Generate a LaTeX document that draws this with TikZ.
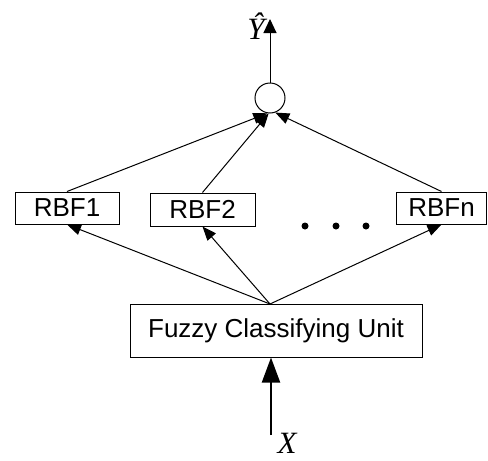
\documentclass[tikz,border=0pt]{standalone}
\usepackage{fontspec}
\setmainfont{Liberation Serif}
\newfontfamily\arialf{Liberation Sans}
\usetikzlibrary{arrows.meta,calc}
\begin{document}
\begin{tikzpicture}[x=1pt,y=-1pt,
  box/.style={draw,line width=1pt,rectangle,inner sep=0pt,font=\arialf\fontsize{26}{30}\selectfont},
  conn/.style={line width=1pt,-{Triangle[length=14pt,width=11pt]}},
  lbl/.style={inner sep=0pt,font=\fontsize{31}{34}\selectfont\itshape},
  dotn/.style={circle,fill=black,inner sep=0pt,minimum size=7pt}]
\useasboundingbox (0,0) rectangle (488,461);
\node[draw,circle,line width=1pt,minimum size=30pt,inner sep=0pt] (circ) at (270,98) {};
\node[box,minimum width=104pt,minimum height=32pt] (rbf1) at (67,208) {RBF1};
\node[box,minimum width=105pt,minimum height=33pt] (rbf2) at (202.5,209.5) {RBF2};
\node[box,minimum width=90pt,minimum height=32pt] (rbfn) at (441.5,208) {RBFn};
\node[box,minimum width=292pt,minimum height=53pt] (fcu) at (276,330.5) {Fuzzy Classifying Unit};
\node[dotn] (d1) at (305,226) {};
\node[dotn] (d2) at (336,226) {};
\node[dotn] (d3) at (366,226) {};
\coordinate (src) at (270,304);
\coordinate (yout) at (270,19);
\coordinate (xin) at (271,435);
\node[lbl] (yl) at (256,26) {Ŷ};
\node[lbl] (xl) at (287,443) {X};
\draw[conn] (src) -- (rbf1.south);
\draw[conn] (src) -- (rbf2.south);
\draw[conn] (src) -- (rbfn.south);
\draw[conn] (rbf1.north) -- (circ.-100);
\draw[conn] (rbf2.north) -- (circ.-95);
\draw[conn] (rbfn.north) -- (circ.-70);
\draw[line width=1pt,-{Triangle[length=14pt,width=13pt]}] (circ.north) -- (yout);
\draw[line width=2pt,-{Triangle[length=25pt,width=18pt]}] (xin) -- (xin |- fcu.south);
\end{tikzpicture}
\end{document}
